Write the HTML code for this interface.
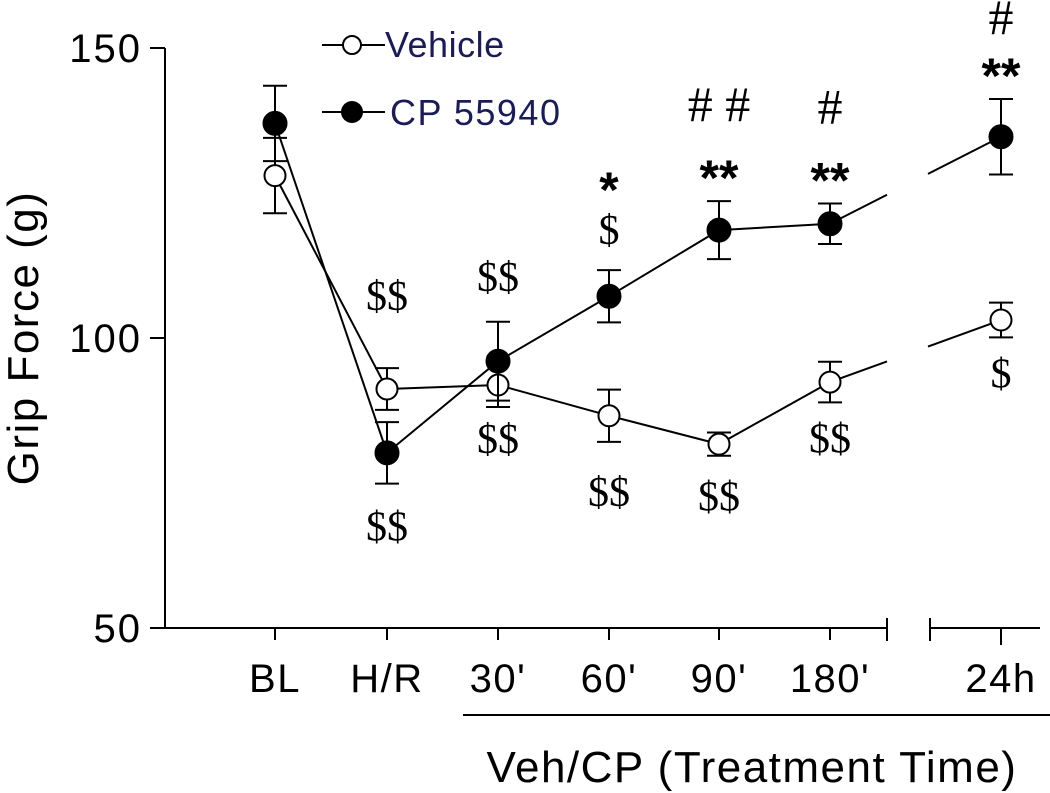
<!DOCTYPE html>
<html><head><meta charset="utf-8"><style>
html,body{margin:0;padding:0;background:#fff;width:1050px;height:793px;overflow:hidden}
svg text{font-family:"Liberation Sans",sans-serif}
.ser{font-family:"Liberation Serif",serif}
</style></head><body>
<svg id="chart" width="1050" height="793" viewBox="0 0 1050 793" xmlns="http://www.w3.org/2000/svg">
<g id="axes"></g>
<g id="marks"></g>
<g id="annot"></g>
<g>
  <line x1="322" y1="45" x2="385" y2="45" stroke="#000" stroke-width="2"/>
  <circle cx="352" cy="45" r="9" fill="#fff" stroke="#000" stroke-width="2"/>
  <text x="385" y="57" font-size="36" letter-spacing="0.5" fill="#1b1b5a">Vehicle</text>
  <line x1="322" y1="112" x2="385" y2="112" stroke="#000" stroke-width="2"/>
  <circle cx="352" cy="112" r="11" fill="#000"/>
  <text x="390" y="125" font-size="36" letter-spacing="1.5" fill="#1b1b5a">CP 55940</text>
</g>
<text transform="translate(38,338) rotate(-90)" text-anchor="middle" font-size="44" letter-spacing="1.5">Grip Force (g)</text>
<line x1="463" y1="715" x2="1050" y2="715" stroke="#000" stroke-width="2"/>
<text x="752" y="782" text-anchor="middle" font-size="44" letter-spacing="1.5">Veh/CP (Treatment Time)</text>
</svg>
<script>
const categories=["BL","H/R","30'","60'","90'","180'","24h"];
const vehicleVals=[128,91.2,91.9,86.6,81.7,92.4,103.1];
const vehicleErr=[6.5,3.6,3.8,4.5,2,3.5,3];
const cpVals=[137,80.2,96,107.2,118.6,119.7,134.7];
const cpErr=[6.5,5.3,6.8,4.5,5,3.5,6.5];
const yTicks=[50,100,150];
const vehAnnot=["","$$","$$","$$","$$","$$","$"];
const cpAnnotTop=["","$$","$$","$","","",""];
const starAnnot=["","","","*","**","**","**"];
const hashAnnot=["","","","","##","#","#"];
const xPos=[275,387,498,609,719,830,1001];
const y=v=>338-(v-100)*5.8;
const x=i=>xPos[i];
const NS="http://www.w3.org/2000/svg";
function mk(p,t,a){const e=document.createElementNS(NS,t);for(const k in a)e.setAttribute(k,a[k]);p.appendChild(e);return e;}
const ax=document.getElementById('axes');
let l=mk(ax,'line',{x1:165,y1:y(150),x2:165,y2:y(50),stroke:'#000','stroke-width':2});


yTicks.forEach(t=>{
  mk(ax,'line',{x1:150,y1:y(t),x2:165,y2:y(t),stroke:'#000','stroke-width':2});
  const tx=mk(ax,'text',{x:142,y:y(t)+14,'text-anchor':'end','font-size':40,'letter-spacing':2});
  tx.textContent=t;
  
  
});
const ay=y(50);
l=mk(ax,'line',{x1:165,y1:ay,x2:887,y2:ay,stroke:'#000','stroke-width':2});


mk(ax,'line',{x1:887,y1:ay-10,x2:887,y2:ay+13,stroke:'#000','stroke-width':2});
mk(ax,'line',{x1:930,y1:ay,x2:1040,y2:ay,stroke:'#000','stroke-width':2});
mk(ax,'line',{x1:930,y1:ay-10,x2:930,y2:ay+13,stroke:'#000','stroke-width':2});
categories.forEach((c,i)=>{
  mk(ax,'line',{x1:x(i),y1:ay,x2:x(i),y2:ay+(i==6?17:12),stroke:'#000','stroke-width':2});
  const tx=mk(ax,'text',{x:x(i),y:692,'text-anchor':'middle','font-size':40,'letter-spacing':1.5});
  tx.textContent=c;
  
  
});
const mg=document.getElementById('marks');
function series(vals,err,filled,name){
  const g=mk(mg,'g',{});
  
  
  for(let i=0;i<vals.length-1;i++){
    let x1=x(i),y1=y(vals[i]),x2=x(i+1),y2=y(vals[i+1]);
    if(i==5){
      const f=t=>y1+(y2-y1)*(t-x1)/(x2-x1);
      mk(g,'line',{x1,y1,x2:887,y2:f(887),stroke:'#000','stroke-width':2});
      mk(g,'line',{x1:928,y1:f(928),x2,y2,stroke:'#000','stroke-width':2});
    } else mk(g,'line',{x1,y1,x2,y2,stroke:'#000','stroke-width':2});
  }
  vals.forEach((v,i)=>{
    const cx=x(i),t=y(v+err[i]),b=y(v-err[i]);
    mk(g,'line',{x1:cx,y1:t,x2:cx,y2:b,stroke:'#000','stroke-width':2});
    mk(g,'line',{x1:cx-12,y1:t,x2:cx+12,y2:t,stroke:'#000','stroke-width':2});
    mk(g,'line',{x1:cx-12,y1:b,x2:cx+12,y2:b,stroke:'#000','stroke-width':2});
    const c=mk(g,'circle',{cx,cy:y(v),r:filled?11.5:10.5,fill:filled?'#000':'#fff',stroke:'#000','stroke-width':2});
    
    
  });
}
series(vehicleVals,vehicleErr,false,'vehicle-series');
series(cpVals,cpErr,true,'cp55940-series');
const an=document.getElementById('annot');
function txt(s,xx,yy,cls,size,bold){
  if(!s)return;
  const t=mk(an,'text',{x:xx,y:yy,'text-anchor':'middle','font-size':size});
  if(cls)t.setAttribute('class',cls);
  if(bold)t.setAttribute('font-weight','bold');
  t.textContent=s;
  
  
}
// layout offsets for annotation placement (pixels, not data)
const botOff=[0,57,46,64,55,50,50];
const topOff=[0,-58,-31,-26,0,0,0];
categories.forEach((c,i)=>{
  const lowV=Math.min(vehicleVals[i]-vehicleErr[i],cpVals[i]-cpErr[i]);
  const hiV=Math.max(vehicleVals[i]+vehicleErr[i],cpVals[i]+cpErr[i]);
  if(vehAnnot[i]) txt(vehAnnot[i],x(i),y(lowV)+botOff[i],'ser',42);
  let top=y(hiV);
  if(cpAnnotTop[i]){ top=top+topOff[i]; txt(cpAnnotTop[i],x(i),top,'ser',42); }
  if(starAnnot[i]){
    const sb=cpAnnotTop[i]?top-37:y(cpVals[i]+cpErr[i])-6;
    txt(starAnnot[i],x(i),sb,'',50,true);
    if(hashAnnot[i]) txt(hashAnnot[i].split('').join(' '),x(i),Math.max(sb-74,34),'ser',50);
  }
});
</script>
</body></html>
